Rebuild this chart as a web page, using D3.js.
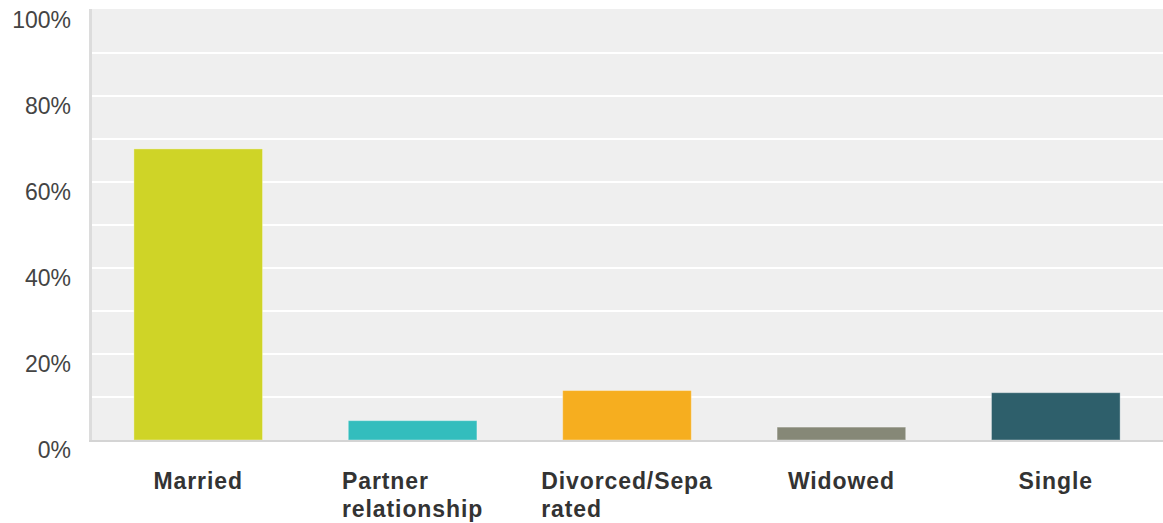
<!DOCTYPE html>
<html>
<head>
<meta charset="utf-8">
<script src="https://cdn.jsdelivr.net/npm/d3@7"></script>
<style>
  html, body { margin: 0; padding: 0; background: #fff; }
  svg { display: block; }
</style>
</head>
<body>
<svg id="chart" width="1163" height="523"></svg>
<script>
// Marital status distribution
const categories = ["Married", "Partner relationship", "Divorced/Separated", "Widowed", "Single"];
const labelLines = [["Married"], ["Partner", "relationship"], ["Divorced/Sepa", "rated"], ["Widowed"], ["Single"]];
const values = [67.7, 4.5, 11.5, 3.0, 11.0];
const colors = ["#cfd427", "#33bdbd", "#f6ae1f", "#868877", "#2e5f6b"];
const yTicks = [0, 20, 40, 60, 80, 100];
const gridTicks = [0, 10, 20, 30, 40, 50, 60, 70, 80, 90, 100];

const svg = d3.select("#chart");
const plot = { left: 91, right: 1163, top: 10, bottom: 440 };

const x = d3.scaleBand()
  .domain(categories)
  .range([plot.left, plot.right])
  .paddingInner(0.4)
  .paddingOuter(0.2);

const y = d3.scaleLinear()
  .domain([0, 100])
  .range([plot.bottom, plot.top]);

// plot background
svg.append("rect")
  .attr("x", plot.left)
  .attr("y", plot.top - 1)
  .attr("width", plot.right - plot.left)
  .attr("height", plot.bottom - plot.top + 1)
  .attr("fill", "#efefef");

// horizontal gridlines
svg.append("g")
  .selectAll("line")
  .data(gridTicks.filter(d => d > 0 && d < 100))
  .join("line")
  .attr("x1", plot.left)
  .attr("x2", plot.right)
  .attr("y1", d => y(d))
  .attr("y2", d => y(d))
  .attr("stroke", "#ffffff")
  .attr("stroke-width", 2);

// bars
svg.append("g")
  .selectAll("rect")
  .data(categories)
  .join("rect")
  .attr("x", d => x(d))
  .attr("y", (d, i) => y(values[i]))
  .attr("width", x.bandwidth())
  .attr("height", (d, i) => y(0) - y(values[i]))
  .attr("fill", (d, i) => colors[i])
  .attr("stroke", "rgba(255,255,255,0.35)")
  .attr("stroke-width", 1);

// axis lines
svg.append("rect")
  .attr("x", plot.left - 2)
  .attr("y", plot.top - 1)
  .attr("width", 3)
  .attr("height", plot.bottom - plot.top + 3)
  .attr("fill", "#dcdcdc");
svg.append("rect")
  .attr("x", plot.left - 2)
  .attr("y", plot.bottom)
  .attr("width", plot.right - plot.left + 2)
  .attr("height", 2)
  .attr("fill", "#d4d4d4");

// y tick labels
const yAxis = d3.axisLeft(y)
  .tickValues(yTicks)
  .tickFormat(d => d + "%")
  .tickSize(0)
  .tickPadding(0);
const yg = svg.append("g")
  .attr("transform", `translate(71,10)`)
  .call(yAxis);
yg.select(".domain").remove();
yg.selectAll("text")
  .attr("fill", "#444")
  .style("font-family", "Arial, 'Liberation Sans', sans-serif")
  .style("font-size", "23px");

// x category labels, wrapped and left-aligned as a block centred on the band
const xg = svg.append("g");
categories.forEach((c, i) => {
  const t = xg.append("text")
    .attr("fill", "#333")
    .style("font-family", "Arial, 'Liberation Sans', sans-serif")
    .style("font-size", "23px")
    .style("font-weight", "bold")
    .style("letter-spacing", "0.9px");
  labelLines[i].forEach((line, j) => {
    t.append("tspan")
      .attr("x", 0)
      .attr("y", 489 + j * 28)
      .text(line);
  });
  const w = d3.max(t.selectAll("tspan").nodes(), n => n.getComputedTextLength());
  const cx = x(c) + x.bandwidth() / 2;
  t.attr("transform", `translate(${cx - w / 2},0)`);
});
</script>
</body>
</html>
